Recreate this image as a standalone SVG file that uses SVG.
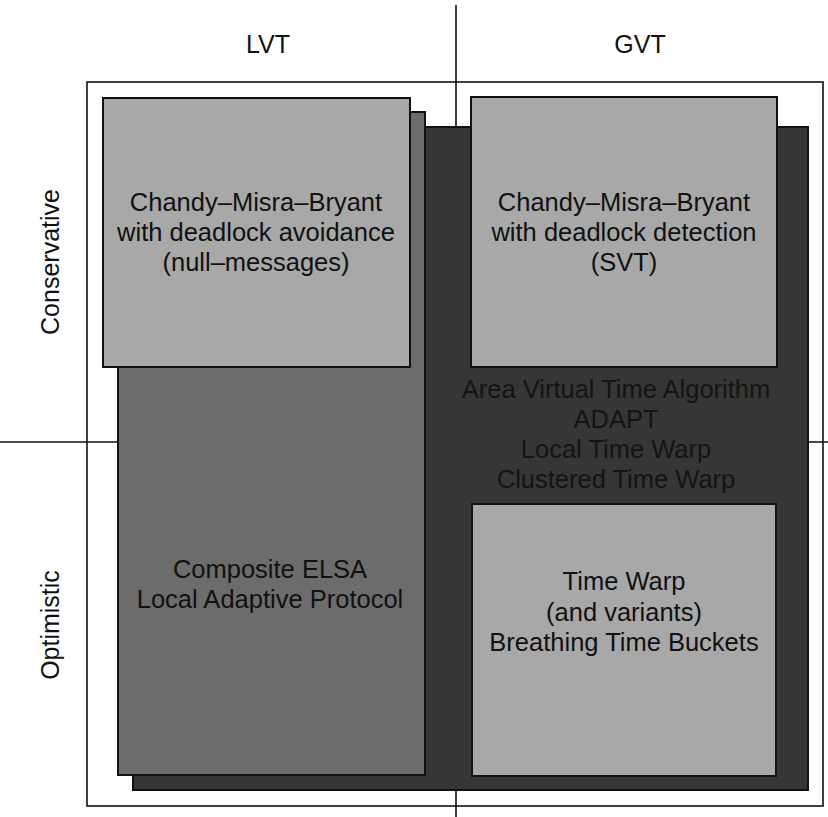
<svg xmlns="http://www.w3.org/2000/svg" width="828" height="817" viewBox="0 0 828 817">
<style>
.ax{stroke:#111;stroke-width:1.6;fill:none}
.frame{fill:none;stroke:#111;stroke-width:1.6}
.light{fill:#a8a8a8;stroke:#111;stroke-width:2}
.mid{fill:#6c6c6c;stroke:#111;stroke-width:2}
.dark{fill:#363636;stroke:#111;stroke-width:2}
.t{font-family:"Liberation Sans",Arial,sans-serif;font-size:25.5px;fill:#111;text-anchor:middle}
.lbl{font-family:"Liberation Sans",Arial,sans-serif;font-size:25px;fill:#111;text-anchor:middle}
.td{fill:#141414}
</style>
<rect width="828" height="817" fill="#fff"/>
<g id="axes">
<line class="ax" x1="456" y1="5" x2="456" y2="817"/>
<line class="ax" x1="0" y1="442" x2="828" y2="442"/>
</g>
<g id="frame"><rect class="frame" x="87" y="82" width="736" height="724"/></g>
<g id="labels">
<text class="lbl" x="268" y="53">LVT</text>
<text class="lbl" x="640" y="53">GVT</text>
<text class="lbl" transform="translate(59,262) rotate(-90)">Conservative</text>
<text class="lbl" transform="translate(59,625) rotate(-90)">Optimistic</text>
</g>
<g id="gvt-region">
<rect class="dark" x="133" y="127" width="675" height="663"/>
<text class="t td" x="616" y="398">Area Virtual Time Algorithm</text>
<text class="t td" x="616" y="428">ADAPT</text>
<text class="t td" x="616" y="458">Local Time Warp</text>
<text class="t td" x="616" y="488">Clustered Time Warp</text>
</g>
<g id="lvt-region">
<rect class="mid" x="118" y="112" width="307" height="663"/>
<text class="t" x="270" y="578">Composite ELSA</text>
<text class="t" x="270" y="608">Local Adaptive Protocol</text>
</g>
<g id="cmb-avoidance">
<rect class="light" x="103" y="98" width="307" height="269"/>
<text class="t" x="256" y="211">Chandy–Misra–Bryant</text>
<text class="t" x="256" y="241">with deadlock avoidance</text>
<text class="t" x="256" y="271">(null–messages)</text>
</g>
<g id="cmb-detection">
<rect class="light" x="471" y="97" width="306" height="270"/>
<text class="t" x="624" y="211">Chandy–Misra–Bryant</text>
<text class="t" x="624" y="241">with deadlock detection</text>
<text class="t" x="624" y="271">(SVT)</text>
</g>
<g id="time-warp">
<rect class="light" x="472" y="504" width="304" height="272"/>
<text class="t" x="624" y="590">Time Warp</text>
<text class="t" x="624" y="621">(and variants)</text>
<text class="t" x="624" y="651">Breathing Time Buckets</text>
</g>
</svg>
